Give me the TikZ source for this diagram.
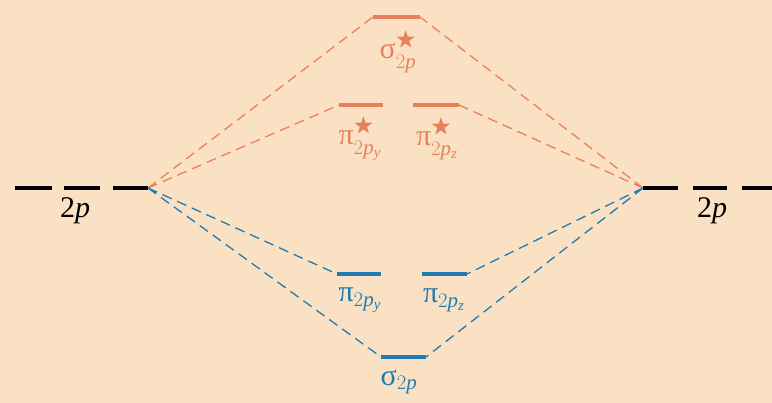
\documentclass[tikz,border=0pt]{standalone}
\usepackage{amssymb}
\usepackage{fontspec}
\setmainfont{Liberation Serif}
\definecolor{bgc}{HTML}{FBE1C4}
\definecolor{orc}{HTML}{E9805C}
\definecolor{blc}{HTML}{1F7BB2}
\begin{document}
\begin{tikzpicture}[x=1pt,y=-1pt,
  bar/.style={line width=3.4pt},
  conn/.style={line width=1.3pt, dash pattern=on 10pt off 6pt},
  lbl/.style={font=\fontsize{30}{34}\selectfont, inner sep=0pt}]
\fill[bgc] (0,0) rectangle (772,403);
\useasboundingbox (0,0) rectangle (772,403);
% 2p levels
\coordinate (L) at (148,188);
\coordinate (R) at (643,188);
\draw[bar,black] (15,188) -- (52,188) (64,188) -- (100,188) (113,188) -- (L);
\draw[bar,black] (R) -- (678,188) (693,188) -- (727,188) (742,188) -- (772,188);
\node[lbl] (l2p) at (75,211) {2\textit{p}};
\node[lbl] (r2p) at (712,211) {2\textit{p}};
% antibonding
\coordinate (sa1) at (373,17); \coordinate (sa2) at (420,17);
\coordinate (pya1) at (339,105); \coordinate (pya2) at (383,105);
\coordinate (pza1) at (413,105); \coordinate (pza2) at (459,105);
\draw[bar,orc] (sa1) -- (sa2) (pya1) -- (pya2) (pza1) -- (pza2);
\node[lbl,text=orc] (lsa) at (398,52) {$\mbox{σ}^{\bigstar}_{2\mathit{p}}$};
\node[lbl,text=orc] (lpya) at (360,139) {$\mbox{π}^{\bigstar}_{2\mathit{p}_{\mathit{y}}}$};
\node[lbl,text=orc] (lpza) at (437,139) {$\mbox{π}^{\bigstar}_{2\mathit{p}_{\mathit{z}}}$};
% bonding
\coordinate (py1) at (337,274); \coordinate (py2) at (381,274);
\coordinate (pz1) at (422,274); \coordinate (pz2) at (467,274);
\coordinate (sb1) at (381,357); \coordinate (sb2) at (426,357);
\draw[bar,blc] (py1) -- (py2) (pz1) -- (pz2) (sb1) -- (sb2);
\node[lbl,text=blc] (lpy) at (360,300) {$\mbox{π}_{2\mathit{p}_{\mathit{y}}}$};
\node[lbl,text=blc] (lpz) at (444,300) {$\mbox{π}_{2\mathit{p}_{\mathit{z}}}$};
\node[lbl,text=blc] (lsb) at (399,382) {$\mbox{σ}_{2\mathit{p}}$};
% connectors
\draw[conn,orc] (L) -- (sa1) (L) -- (pya1) (R) -- (sa2) (R) -- (pza2);
\draw[conn,blc] (L) -- (py1) (L) -- (sb1) (R) -- (pz2) (R) -- (sb2);
\end{tikzpicture}
\end{document}
